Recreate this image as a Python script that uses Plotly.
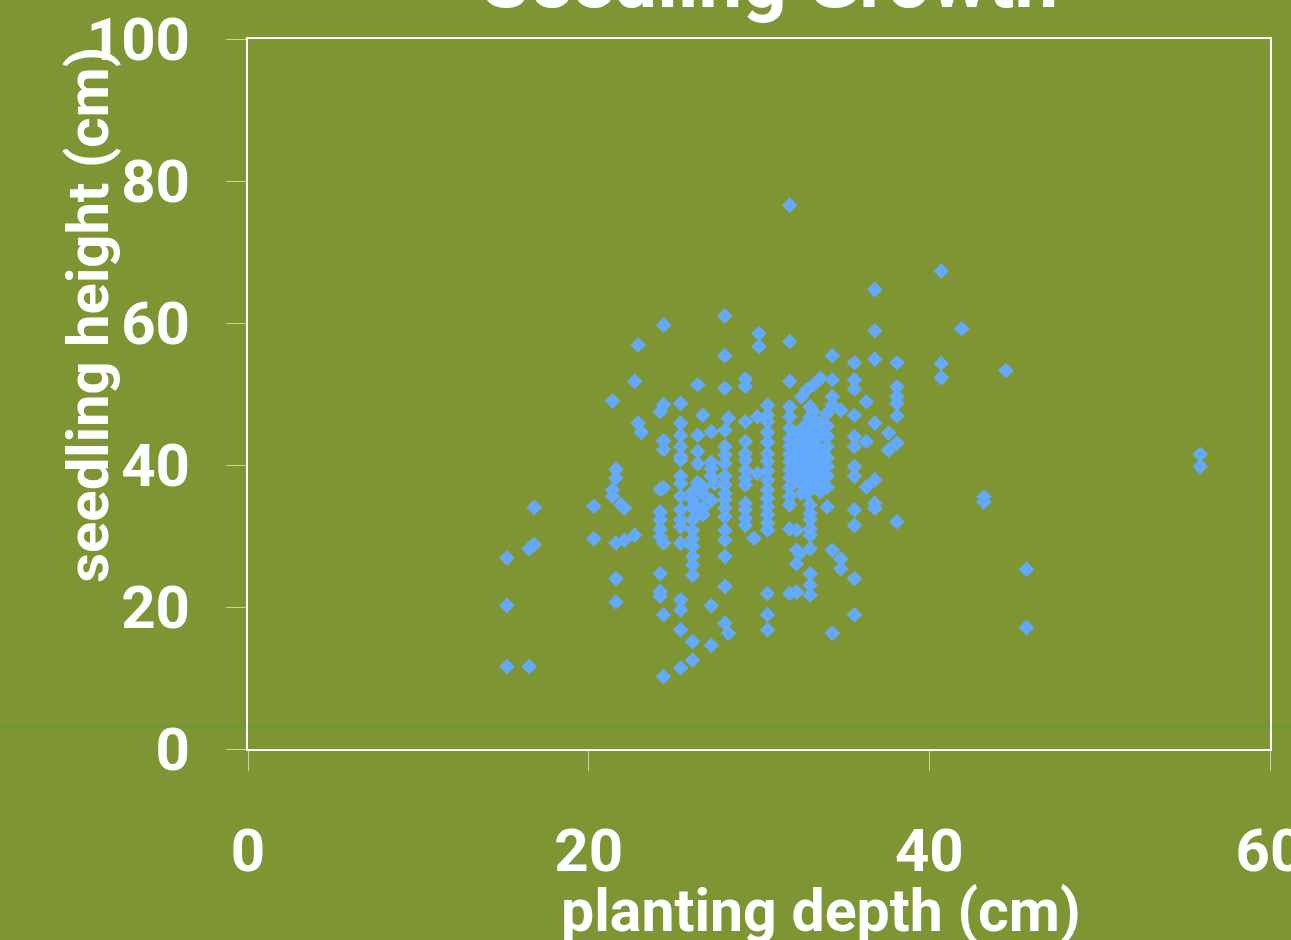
import plotly.graph_objects as go

# planting depth columns (cm) and the seedling heights (cm) observed at each
depth_columns = [15.2, 16.5, 16.8, 20.3, 21.4, 21.6, 21.9, 22.1, 22.7, 22.9, 23.1,
                 24.2, 24.4, 25.4, 26.1, 26.4, 26.7, 27.2, 27.4, 28.0, 28.2, 29.2,
                 29.7, 29.9, 30.0, 30.5, 31.8, 32.2, 32.4, 32.5, 32.8, 33.0, 33.2,
                 33.6, 34.0, 34.3, 34.8, 35.6, 36.3, 36.8, 37.6, 38.1, 40.7, 41.9,
                 43.2, 44.5, 45.7, 55.9]
height_groups = [
    [26.9, 20.2, 11.6],
    [11.6, 28.2],
    [28.8, 34.0],
    [34.2, 29.6],
    [49.0, 36.5, 35.6],
    [39.4, 38.2, 29.0, 24.0, 20.7],
    [34.4],
    [33.9, 29.4],
    [30.1, 51.8],
    [56.9, 45.9],
    [44.6],
    [47.5, 36.6, 33.4, 32.3, 31.0, 29.9, 24.7, 22.2, 21.5],
    [59.7, 48.5, 43.4, 42.2, 36.8, 29.0, 18.9, 10.2],
    [48.7, 45.9, 44.2, 42.6, 41.2, 40.7, 38.4, 37.4, 35.6, 33.7, 32.3, 31.3, 29.0, 21.0, 19.6, 16.8, 11.4],
    [36.2, 35.1, 34.0, 32.3, 30.8, 29.6, 28.5, 27.1, 25.9, 24.5, 15.1, 12.5],
    [51.3, 44.2, 41.9, 40.2, 37.5, 33.9],
    [47.0, 36.9, 36.0, 33.9, 33.0],
    [44.7, 40.4, 39.5, 38.4, 35.0, 20.2, 14.6],
    [37.4],
    [61.0, 55.4, 50.8, 44.9, 42.6, 41.4, 40.2, 38.4, 37.2, 36.0, 35.1, 33.9, 32.7, 30.8, 29.4, 27.1, 22.9, 17.7],
    [46.6, 16.3],
    [52.1, 51.1, 46.1, 43.3, 41.6, 40.7, 39.3, 38.1, 37.2, 34.6, 33.7, 32.5, 31.5],
    [29.7],
    [46.8, 38.8],
    [58.5, 56.7],
    [48.4, 47.0, 46.1, 44.6, 43.2, 41.6, 40.5, 39.2, 37.9, 36.5, 35.3, 34.1, 33.0, 31.8, 30.8, 21.9, 18.9, 16.8],
    [76.6, 57.4, 51.8, 48.2, 46.8, 45.2, 43.7, 42.6, 41.5, 40.5, 39.3, 38.2, 36.9, 35.6, 34.4, 31.0, 21.9],
    [44.5, 42.0, 39.8, 37.8, 30.8, 28.0, 26.1, 22.1],
    [40.8, 38.5, 27.6],
    [49.6, 45.0, 43.3, 41.5, 39.0, 37.5, 36.0],
    [50.6, 45.8, 43.5, 41.8, 39.5, 38.2, 36.0],
    [48.2, 46.8, 45.4, 44.0, 42.6, 41.0, 39.5, 38.0, 36.5, 34.4, 33.2, 32.3, 31.0, 30.1, 28.2, 24.7, 23.1, 21.7],
    [51.3, 47.5, 45.0, 43.0, 41.5, 40.0, 38.5, 37.0],
    [52.2, 46.0, 44.2, 42.0, 40.5, 39.0, 37.5, 36.2],
    [47.3, 45.5, 44.0, 42.6, 41.0, 39.8, 38.4, 36.9, 34.1],
    [55.4, 52.0, 49.6, 48.5, 28.0, 16.3],
    [47.7, 26.8, 25.4],
    [54.4, 52.0, 50.7, 47.0, 44.0, 42.6, 39.8, 38.4, 33.7, 31.5, 24.0, 18.9],
    [48.9, 43.3, 36.9],
    [64.7, 58.9, 54.9, 45.9, 37.9, 34.6, 33.9],
    [44.5, 42.1],
    [54.4, 51.0, 49.6, 48.7, 46.9, 43.1, 32.0],
    [67.3, 54.3, 52.3],
    [59.2],
    [35.5, 34.8],
    [53.3],
    [25.3, 17.1],
    [41.5, 39.8],
]

x_ticks = [0, 20, 40, 60]
y_ticks = [0, 20, 40, 60, 80, 100]
ref_line_y = 3.24

title_text = "Seedling Growth"
x_title = "planting depth (cm)"
y_title = "seedling height (cm)"

depth = []
height = []
for d, hs in zip(depth_columns, height_groups):
    for h in hs:
        depth.append(d)
        height.append(h)

BG = "#7f9533"
FONT = "Roboto"

fig = go.Figure()
fig.add_trace(go.Scatter(
    x=depth, y=height, mode="markers",
    marker=dict(symbol="diamond", size=12, color="#64aafc", line=dict(width=0)),
    showlegend=False,
))

fig.update_layout(
    width=1291, height=940,
    paper_bgcolor=BG, plot_bgcolor=BG,
    margin=dict(l=248, r=21, t=39, b=191, autoexpand=False),
    font=dict(family=FONT, color="white", size=60, weight="bold"),
    showlegend=False,
)

axis_common = dict(
    showline=True, linecolor="white", linewidth=2, mirror=True,
    showgrid=False, zeroline=False, automargin=False,
    ticks="outside", ticklen=20, tickwidth=1, tickcolor="rgba(255,255,255,0.6)",
    tickfont=dict(family=FONT, size=60, color="white", weight="bold"),
    ticklabeloverflow="allow",
)
fig.update_xaxes(range=[0, 60], tickvals=x_ticks, ticktext=[str(v) for v in x_ticks],
                 ticklabelstandoff=28, **axis_common)
fig.update_yaxes(range=[0, 100], tickvals=y_ticks, ticktext=[str(v) for v in y_ticks],
                 ticklabelstandoff=24, **axis_common)

fig.add_shape(type="line", xref="paper", yref="y", x0=-0.3, x1=1.1,
              y0=ref_line_y, y1=ref_line_y,
              line=dict(color="#4b9b45", width=1), layer="below")

fig.add_annotation(text=title_text, xref="paper", yref="paper", x=0.51, y=1.082,
                   showarrow=False, xanchor="center", yanchor="middle",
                   font=dict(family=FONT, size=78, color="white", weight="bold"))
fig.add_annotation(text=x_title, xref="paper", yref="paper", x=0.5607, y=-0.227,
                   showarrow=False, xanchor="center", yanchor="middle",
                   font=dict(family=FONT, size=59, color="white", weight="bold"))
fig.add_annotation(text=y_title, xref="paper", yref="paper", x=-0.156, y=0.611,
                   showarrow=False, xanchor="center", yanchor="middle", textangle=-90,
                   font=dict(family=FONT, size=58, color="white", weight="bold"))

fig.write_html("out.html", config={"displayModeBar": False},
               post_script="document.body.style.margin='0';")
